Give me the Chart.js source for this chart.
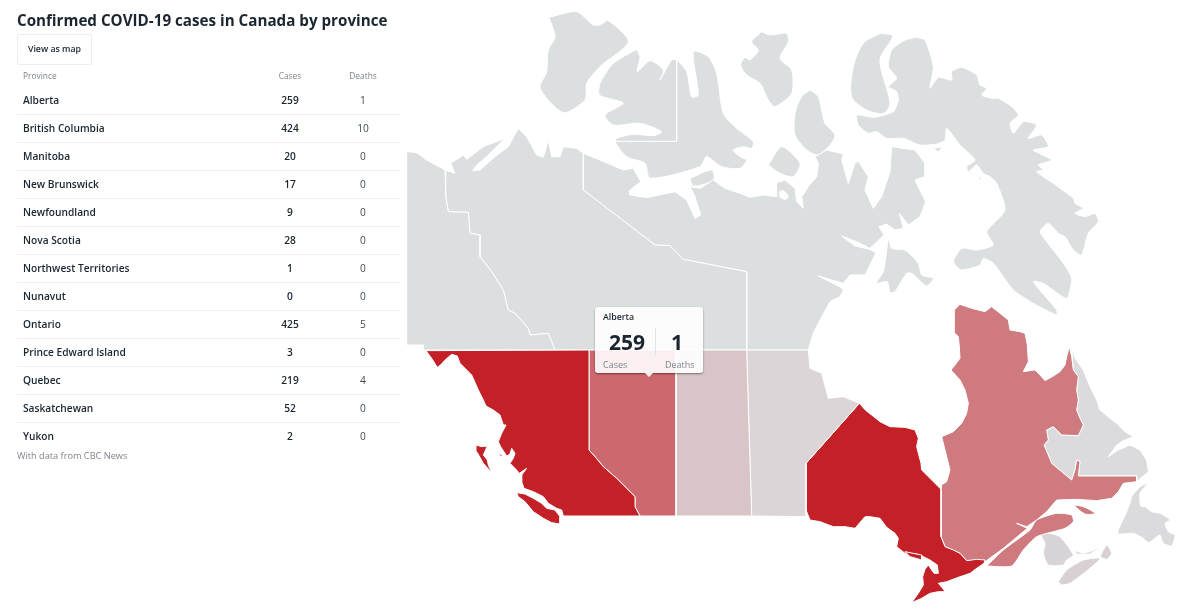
<!DOCTYPE html>
<html>
<head>
<meta charset="utf-8">
<script src="https://cdn.jsdelivr.net/npm/chart.js@4"></script>
<style>
html,body{margin:0;padding:0;background:#fff;width:1200px;height:613px;overflow:hidden;font-family:"Open Sans",sans-serif;color:#1b2530}
#map{position:absolute;left:0;top:0}
h1{position:absolute;left:17px;top:9px;margin:0;font-size:15.2px;line-height:22px;font-weight:700;white-space:nowrap}
#btn{position:absolute;left:17px;top:34px;width:73px;height:29px;border:1px solid #ececec;border-radius:2px;font-size:8.8px;font-weight:600;line-height:29px;text-align:center}
table{position:absolute;left:17px;top:62px;width:383px;border-collapse:collapse;table-layout:fixed}
th{font-size:8.4px;font-weight:400;color:#7d858c;height:23px;padding:2px 0 0}
td{font-size:10.2px;font-weight:600;height:25px;padding:0 0 2px;border-top:1px solid #eee;text-align:center}
tbody tr:first-child td{border-top:0}
td.n,th.n{text-align:left;padding-left:6px}
td.d{font-weight:400;color:#3f4a54}
#note{position:absolute;left:17px;top:449px;font-size:9.2px;color:#7d858c;line-height:14px}
#tip{position:absolute;left:595px;top:307px;width:108px;height:66px;background:rgba(255,255,255,.9);border-radius:3px;box-shadow:0 1px 2px rgba(0,0,0,.45)}
#tip:after{content:"";position:absolute;left:50px;top:66px;border:4px solid transparent;border-top-color:rgba(255,255,255,.9);border-bottom:0}
#tip div{position:absolute;white-space:nowrap}
#tipName{left:8px;top:4px;font-size:8.8px;font-weight:600;line-height:12px}
.big{top:21px;font-size:21px;font-weight:700;line-height:28px;text-align:center}
.lab{top:51px;font-size:9px;color:#7d858c;line-height:13px}
#tipRule{left:60px;top:21px;width:1px;height:28px;background:#e4e4e4}
</style>
</head>
<body>
<canvas id="map" width="1200" height="613"></canvas>
<h1>Confirmed COVID-19 cases in Canada by province</h1>
<div id="btn">View as map</div>
<table id="provTable">
<colgroup><col style="width:233px"><col style="width:80px"><col style="width:66px"><col></colgroup>
<thead><tr><th class="n">Province</th><th>Cases</th><th>Deaths</th><th></th></tr></thead>
<tbody></tbody>
</table>
<div id="note">With data from CBC News</div>
<div id="tip">
<div id="tipName"></div>
<div class="big" id="tipCases" style="left:0;width:64px"></div>
<div id="tipRule"></div>
<div class="big" id="tipDeaths" style="left:62px;width:40px"></div>
<div class="lab" style="left:8px">Cases</div>
<div class="lab" style="left:70px">Deaths</div>
</div>
<script>
// table data
const provinces=["Alberta","British Columbia","Manitoba","New Brunswick","Newfoundland","Nova Scotia","Northwest Territories","Nunavut","Ontario","Prince Edward Island","Quebec","Saskatchewan","Yukon"];
const cases=[259,424,20,17,9,28,1,0,425,3,219,52,2];
const deaths=[1,10,0,0,0,0,0,0,5,0,4,0,0];

const yukonNw=[20,455,50,458,80,480,135,510,137,590,145,635,205,637,210,700,240,705,240,770,275,815,310,870,325,930,345,940];
const yukonSw=[385,85,390,105,445,100,465,150,70,150,70,135,20,135];
const nwtNw=[135,510,165,520,152,490,190,465,200,478,250,440,315,415,260,470,230,495,218,512,240,510,285,470,325,440,355,385,380,410,410,465,430,472,445,420,455,470,480,470,490,440,530,445,550,460,550,570,765,735,810,737,850,778,1040,815];
const nwtSw=[1040,150,465,150,445,100,390,105,385,85];
const nwtNw2=[345,940,325,930,310,870,275,815,240,770,240,705,210,700,205,637,145,635,137,590];
const nunavutNw=[550,460,600,480,670,510,700,505,722,545,690,570,690,585,740,593,825,575,860,600,885,655,902,645,885,590,870,560,900,565,940,540,975,565,1020,580,1050,592,1090,585,1130,590,1130,548,1155,540,1185,565,1190,605];
const nunavutNe=[70,625,65,590,85,560,110,530,115,490,105,470,140,450,190,462,185,480,205,550,225,490,235,483,265,530,255,570,280,625,305,590,330,515,335,440,405,450,435,490,435,530,405,540,437,605,420,650,385,675,358,640,370,685,345,690,320,672,297,680,312,705,270,745,230,725,185,708,225,738,265,747,288,758,255,825,210,825,190,850,115,828,180,860,190,870,180,890,150,905,120,960];
const nunavutSe=[70,130,55,180];
const nunavutSw=[1040,150];
const nunavutNw2=[1040,815,850,778,810,737,765,735,550,570];
const boothiaHole=[1138,575,1150,572,1165,590,1155,598,1140,590];
const banks=[447,52,530,35,580,75,600,75,625,62,685,125,600,200,560,250,555,300,490,338,420,265,440,215,445,150,465,110];
const victoria=[710,148,720,170,712,215,750,182,790,210,780,240,815,180,830,180,860,215,875,290,895,285,880,155,925,170,950,220,970,340,1010,385,1060,425,1055,445,1030,440,1000,450,1020,470,1040,480,1020,505,965,500,920,470,900,500,750,535,735,490,680,470,645,420,700,403,760,407,785,395,720,370,640,375,615,345,670,310,625,295,598,285,600,250,640,190];
const victoriaBorder=[830,180,830,424,645,424];
const kingWilliam=[870,535,935,510,940,540,880,558];
const melville=[1085,95,1110,105,1160,100,1165,125,1140,175,1175,210,1175,280,1125,320,1105,300,1080,250,1040,225,1022,195,1035,172,1050,180,1075,150,1055,125];
const bathurst=[90,270,115,290,135,370,165,405,150,435,115,465,80,450,45,405,45,340,65,290];
const prince=[1105,495,1145,440,1200,490,1180,530,1140,520];
const axel=[300,100,338,108,300,180,330,310,310,340,260,330,215,290,220,200,250,130];
const baffin=[410,112,435,120,460,200,450,265,475,232,515,240,515,215,545,202,590,225,600,255,620,265,605,285,635,295,655,295,695,320,715,345,690,370,700,400,730,365,770,375,745,415,785,405,805,440,760,450,815,480,775,495,790,510,770,515,820,550,880,595,885,610,910,625,885,640,915,650,945,640,955,665,925,700,905,765,880,750,855,710,835,700,805,670,780,695,800,725,850,790,875,835,860,895,790,850,760,845,830,930,830,945,760,910,700,870,640,790,610,775,600,795,545,810,520,785,545,745,590,750,640,735,620,695,675,630,650,550,630,530,610,520,590,495,565,515,560,500,585,480,540,435,500,385,495,420,470,432,420,435,370,415,320,415,290,395,265,400,235,375,230,345,280,352,340,335,355,300,350,275,325,260,350,235,325,200,335,150,375,120];
const southampton=[325,712,335,745,375,750,415,790,425,825,460,835,440,858,395,820,380,820,345,875,330,878,322,845,288,850,310,815];
const bylot=[460,445,485,442,475,455];
const foxeIslet=[595,525,605,535,600,542];
const bcMain=[78,152,95,175,112,202,125,192,135,180,155,163,172,168,180,190,215,225,235,270,250,300,258,318,280,330,300,345,310,375,318,375,305,400,295,425,302,440,320,468,330,462,335,445,345,460,340,475,330,490,345,505,358,520,380,505,365,525,365,545,372,565,400,575,430,590,445,610,470,625,485,630,490,648,720,648,705,620,705,590,650,535,610,500,585,470,567,450,567,150];
const haida=[228,435,245,440,262,438,250,465,262,480,265,495,275,518,250,490,240,472,230,455];
const vancouver=[350,578,375,582,400,595,425,610,440,625,465,630,480,650,480,672,455,668,430,655,400,635,375,605,355,590];
const bcIslet=[295,458,312,470,300,468];
const alberta=[567,150,828,150,828,648,720,648,705,620,705,590,650,535,610,500,585,470,567,450];
const sask=[828,150,1040,150,1055,648,828,648];
const manitobaSw=[1040,150];
const manitobaSe=[55,180,60,235,95,250,115,325,160,320,208,340,48,520,48,680];
const manitobaSw2=[1055,648];
const ontario=[208,340,228,362,245,375,270,395,300,410,345,412,375,420,385,445,380,470,385,490,393,520,395,540,420,565,450,595,453,600,453,740,465,770,490,780,510,790,530,812,560,808,585,810,582,820,560,835,540,850,505,862,470,875,445,880,460,897,465,905,445,905,420,910,395,925,365,938,385,910,400,885,398,860,405,838,415,825,432,850,445,850,442,825,420,810,400,800,380,792,345,790,320,770,325,745,315,730,290,712,270,685,240,680,225,680,195,715,165,710,130,710,90,695,60,690,48,660,48,520];
const manitoulin=[345,785,395,795,395,810,360,800];
const quebec=[455,440,490,425,515,400,530,370,535,340,525,300,510,270,483,240,495,225,510,205,508,170,505,140,495,130,493,60,510,43,545,55,585,65,605,50,630,70,655,90,660,120,690,125,705,130,712,165,715,215,700,245,735,240,750,255,765,272,790,258,810,245,825,225,830,200,838,170,845,200,850,240,865,260,860,300,865,330,860,360,870,385,880,405,865,437,815,435,790,410,770,420,775,450,762,465,775,495,785,520,815,545,845,570,855,540,860,510,870,515,865,558,1040,558,1040,575,1000,580,985,605,965,625,920,632,860,628,800,630,770,665,740,690,710,710,680,700,712,715,640,775,585,815,530,812,510,790,465,770,453,740,453,600,455,585,470,575,480,540,465,480];
const gaspe=[590,828,640,780,720,720,740,690,800,670,845,675,850,695,825,715,740,740,700,780,665,828];
const anticosti=[850,645,880,650,915,670,885,672];
const labrador=[845,170,855,205,880,240,900,290,920,330,930,360,960,385,980,400,1005,425,1030,440,1000,452,980,465,955,500,985,480,1020,465,1050,480,1070,510,1075,545,1040,575,1040,558,865,558,870,515,860,510,855,540,845,570,815,545,785,520,775,495,762,465,775,450,770,420,790,410,815,435,865,437,880,405,870,385,860,360,865,330,860,300,865,260,850,240];
const newfoundland=[1075,578,1050,590,1025,620,1020,640,1010,665,985,720,985,732,1030,730,1060,745,1075,758,1095,745,1110,735,1120,760,1145,768,1155,735,1135,725,1125,700,1140,690,1110,670,1085,665,1065,650,1052,648,1050,610];
const newBrunswick=[745,725,780,730,810,740,850,795,830,810,820,825,775,825,760,790,765,760];
const novaScotia=[805,875,830,840,880,810,930,805,900,835,840,880,815,885];
const capeBreton=[930,800,950,765,965,790,950,808];
const pei=[855,780,880,790,925,775,900,792,860,792];

// fill per province, hover keeps Alberta lighter
const fillGrey="#dcdfe0";
const fillBC="#c32027";
const fillON="#c32027";
const fillAB="#cd696e";
const fillQC="#cf7a7f";
const fillSK="#d9c5c7";
const fillMB="#dcd5d7";
const fillNL="#dbdadc";
const fillNB="#d9d4d7";
const fillNS="#d9d0d4";
const fillPE="#dddbdd";

// crop origins
const at=(ox,oy,flat)=>{
  const pts=[];
  for(let i=0;i<flat.length;i+=2){
    pts.push({x:ox+flat[i]/3,y:oy+flat[i+1]/3});
  }
  return pts;
};
const nw=f=>at(400,0,f);
const sw=f=>at(400,300,f);
const se=f=>at(790,290,f);
const ne=f=>at(780,0,f);

function poly(pts,color,tension){
  return {
    data:pts.concat([pts[0]]),
    showLine:true,
    fill:'shape',
    backgroundColor:color,
    borderColor:'#ffffff',
    borderWidth:1,
    pointRadius:0,
    tension:tension||0
  };
}

function rule(pts){
  return {data:pts,showLine:true,fill:false,borderColor:'#ffffff',borderWidth:1,pointRadius:0};
}

// earlier datasets draw on top
const datasets=[
  rule(nw(victoriaBorder)),
  poly(nw(boothiaHole),'#ffffff',.3),
  poly(se(manitoulin),fillON),
  poly(sw(haida),fillBC),
  poly(sw(vancouver),fillBC),
  poly(sw(bcIslet),fillBC),
  poly(sw(bcMain),fillBC),
  poly(sw(alberta),fillAB),
  poly(sw(sask),fillSK),
  poly([...sw(manitobaSw),...se(manitobaSe),...sw(manitobaSw2)],fillMB),
  poly(se(ontario),fillON),
  poly(se(quebec),fillQC),
  poly(se(gaspe),fillQC,.2),
  poly(se(anticosti),fillQC,.3),
  poly(se(labrador),fillNL),
  poly(se(newfoundland),fillNL,.2),
  poly(se(newBrunswick),fillNB,.2),
  poly(se(novaScotia),fillNS,.2),
  poly(se(capeBreton),fillNS,.2),
  poly(se(pei),fillPE,.2),
  poly([...nw(yukonNw),...sw(yukonSw)],fillGrey),
  poly([...nw(nwtNw),...sw(nwtSw),...nw(nwtNw2)],fillGrey),
  poly([...nw(nunavutNw),...ne(nunavutNe),...se(nunavutSe),...sw(nunavutSw),...nw(nunavutNw2)],fillGrey),
  poly(nw(banks),fillGrey,.25),
  poly(nw(victoria),fillGrey,.25),
  poly(nw(kingWilliam),fillGrey,.3),
  poly(nw(melville),fillGrey,.25),
  poly(nw(prince),fillGrey,.25),
  poly(ne(bathurst),fillGrey,.25),
  poly(ne(axel),fillGrey,.3),
  poly(ne(baffin),fillGrey,.2),
  poly(ne(bylot),fillGrey,.2),
  poly(ne(foxeIslet),fillGrey),
  poly(ne(southampton),fillGrey,.2)
];

new Chart(document.getElementById("map"),{
  type:"scatter",
  data:{datasets:datasets},
  options:{
    responsive:false,
    animation:false,
    devicePixelRatio:1,
    events:[],
    layout:{padding:0},
    plugins:{legend:{display:false},tooltip:{enabled:false}},
    scales:{
      x:{type:"linear",min:0,max:1200,display:false},
      y:{type:"linear",min:0,max:613,reverse:true,display:false}
    }
  }
});

// table
let tableBody=document.querySelector("#provTable tbody");
provinces.forEach((name,i)=>{
  tableBody.innerHTML+=`<tr><td class="n">${name}</td><td>${cases[i]}</td><td class="d">${deaths[i]}</td><td></td></tr>`;
});

// hover box
const hover=provinces.indexOf("Alberta");
document.getElementById("tipName").textContent=provinces[hover];
document.getElementById("tipCases").textContent=cases[hover];
document.getElementById("tipDeaths").textContent=deaths[hover];
</script>
</body>
</html>
